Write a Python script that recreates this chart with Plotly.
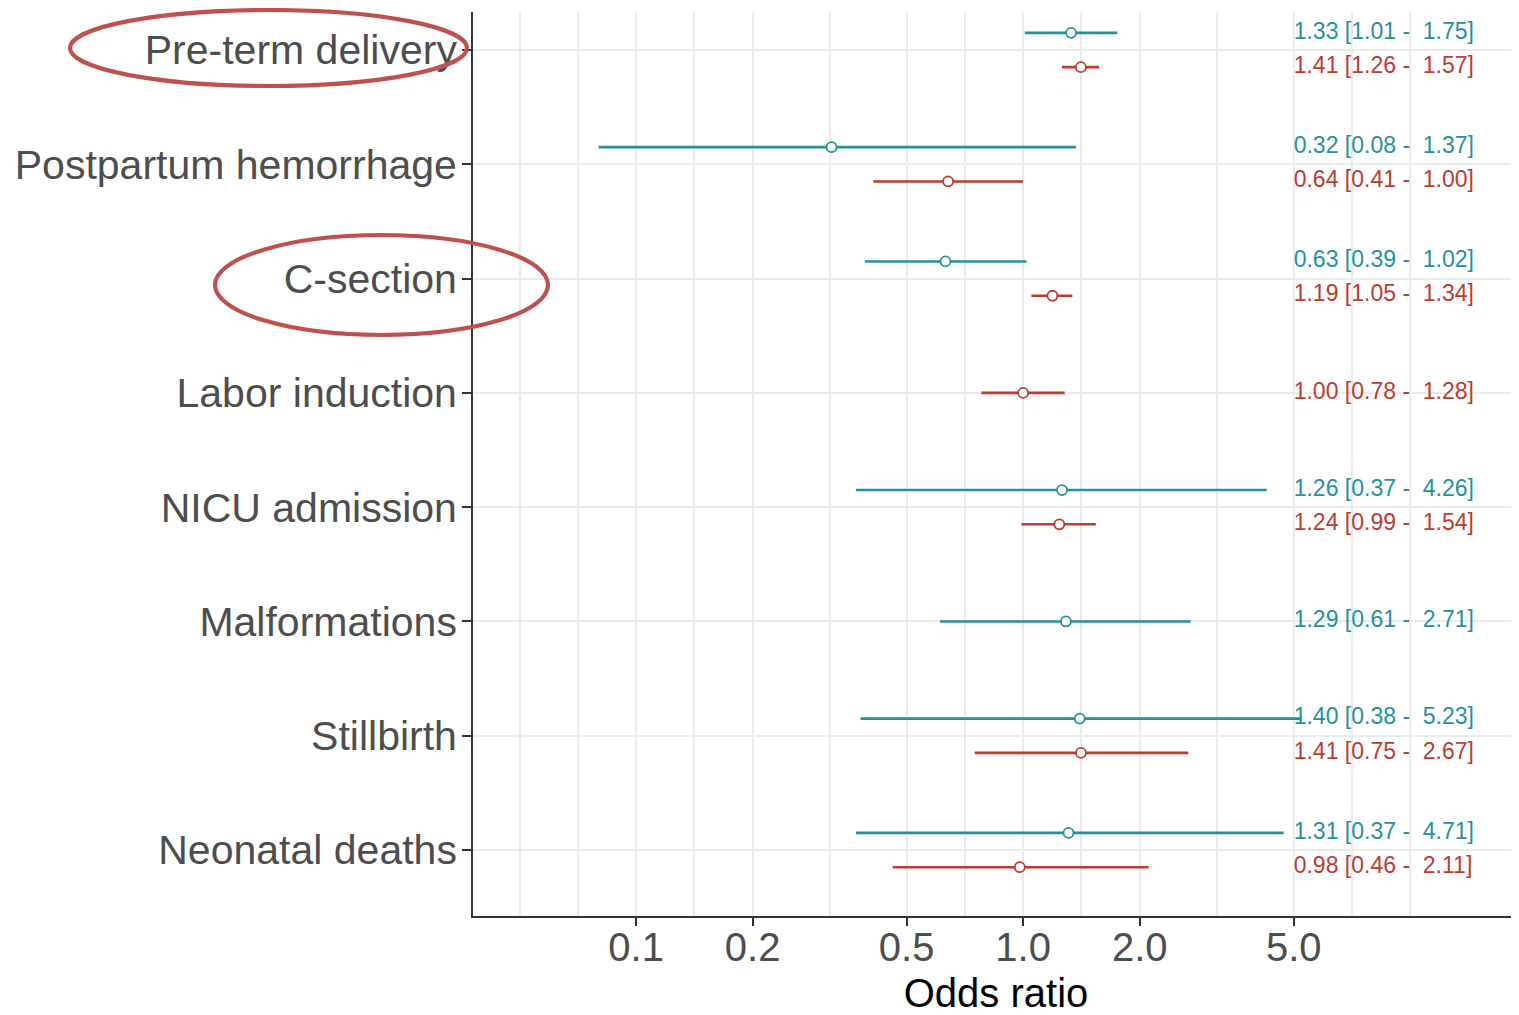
import math
import plotly.graph_objects as go

# ---------------- data ----------------
outcomes = ["Pre-term delivery", "Postpartum hemorrhage", "C-section", "Labor induction",
            "NICU admission", "Malformations", "Stillbirth", "Neonatal deaths"]

# teal series (None = not reported)
teal_or = [1.33, 0.32, 0.63, None, 1.26, 1.29, 1.40, 1.31]
teal_lo = [1.01, 0.08, 0.39, None, 0.37, 0.61, 0.38, 0.37]
teal_hi = [1.75, 1.37, 1.02, None, 4.26, 2.71, 5.23, 4.71]

# red series
red_or = [1.41, 0.64, 1.19, 1.00, 1.24, None, 1.41, 0.98]
red_lo = [1.26, 0.41, 1.05, 0.78, 0.99, None, 0.75, 0.46]
red_hi = [1.57, 1.00, 1.34, 1.28, 1.54, None, 2.67, 2.11]

tick_vals = [0.1, 0.2, 0.5, 1.0, 2.0, 5.0]
tick_text = ["0.1", "0.2", "0.5", "1.0", "2.0", "5.0"]
extra_grid = [0.05, 0.0707, 0.1414, 0.3162, 0.7071, 1.4142, 3.1623, 7.0711, 10.0]
null_value = 1.0
label_x = 5.0

# ---------------- style ----------------
TEAL = "#25929a"
RED = "#bf3b30"
DODGE = 0.15
FONT = "Liberation Sans, Arial, Helvetica, sans-serif"

OFF = 8  # page body margin
W, H = 1519 - OFF, 1015 - OFF
PLOT_TOP, PLOT_BOTTOM = 12, 916  # in page pixels
L, R = 473 - OFF, 0
T = PLOT_TOP - OFF
B = H - (PLOT_BOTTOM - OFF)


def positions(a, b):
    pa, pb = [], []
    for i in range(len(outcomes)):
        has_a = a[i] is not None
        has_b = b[i] is not None
        if has_a and has_b:
            pa.append(i - DODGE)
            pb.append(i + DODGE)
        else:
            pa.append(i)
            pb.append(i)
    return pa, pb


teal_y, red_y = positions(teal_or, red_or)


def ci_text(o, lo, hi):
    return f"{o:.2f} [{lo:.2f} -\u00a0 {hi:.2f}]"


fig = go.Figure()

for ors, los, his, ys, col in [(teal_or, teal_lo, teal_hi, teal_y, TEAL),
                               (red_or, red_lo, red_hi, red_y, RED)]:
    idx = [i for i in range(len(outcomes)) if ors[i] is not None]
    xs, yl = [], []
    for i in idx:
        xs += [los[i], his[i], None]
        yl += [ys[i], ys[i], None]
    fig.add_trace(go.Scatter(x=xs, y=yl, mode="lines",
                             line=dict(color=col, width=2.6),
                             hoverinfo="skip", showlegend=False))
    fig.add_trace(go.Scatter(x=[ors[i] for i in idx], y=[ys[i] for i in idx],
                             mode="markers",
                             marker=dict(symbol="circle", size=10, color="white",
                                         line=dict(color=col, width=1.8)),
                             showlegend=False))
    fig.add_trace(go.Scatter(x=[label_x] * len(idx), y=[ys[i] for i in idx],
                             mode="text",
                             text=[ci_text(ors[i], los[i], his[i]) for i in idx],
                             textposition="middle right",
                             textfont=dict(family=FONT, size=23, color=col),
                             showlegend=False, hoverinfo="skip"))

# reference line at OR = 1
fig.add_shape(type="line", xref="x", yref="paper",
              x0=math.log10(null_value), x1=math.log10(null_value), y0=0, y1=1,
              line=dict(color="#555555", width=1.6, dash="9px,6px"), layer="above")

# hand-drawn emphasis ellipses (reference pixel -> paper)
pw, ph = W - L - R, H - T - B


def px(xp):
    return (xp - OFF - L) / pw


def py(yp):
    return (H - B - (yp - OFF)) / ph


for (x0, x1, y0, y1) in [(70, 467, 10, 86), (215, 548, 235, 335)]:
    fig.add_shape(type="circle", xref="paper", yref="paper",
                  x0=px(x0), x1=px(x1), y0=py(y1), y1=py(y0),
                  line=dict(color="#c0504d", width=4.2), layer="above")

xr = [math.log10(0.0379), math.log10(19.1)]
fig.update_xaxes(type="log", range=xr,
                 tickmode="array", tickvals=tick_vals, ticktext=tick_text,
                 ticks="outside", ticklen=8, tickwidth=1.5, tickcolor="#333333",
                 tickfont=dict(family=FONT, size=40, color="#4d4d4d"),
                 ticklabelstandoff=-13,
                 showgrid=True, gridcolor="#ebebeb", gridwidth=1.5,
                 minor=dict(tickmode="array", tickvals=extra_grid, showgrid=True,
                            gridcolor="#ebebeb", gridwidth=1.5, ticks=""),
                 showline=True, linecolor="#333333", linewidth=1.8,
                 zeroline=False, automargin=False,
                 title=dict(text="Odds ratio", standoff=24,
                            font=dict(family=FONT, size=40, color="#000000")))

fig.update_yaxes(range=[7.577, -0.3325],
                 tickmode="array", tickvals=list(range(len(outcomes))), ticktext=outcomes,
                 ticks="outside", ticklen=9, tickwidth=1.5, tickcolor="#333333",
                 tickfont=dict(family=FONT, size=41, color="#4d4d4d"),
                 ticklabelstandoff=-3,
                 showgrid=True, gridcolor="#ebebeb", gridwidth=1.5,
                 showline=True, linecolor="#333333", linewidth=1.8,
                 zeroline=False, automargin=False)

fig.update_layout(width=W, height=H,
                  margin=dict(l=L, r=R, t=T, b=B, pad=0),
                  plot_bgcolor="white", paper_bgcolor="white",
                  font=dict(family=FONT), showlegend=False)

fig.write_html("out.html")
